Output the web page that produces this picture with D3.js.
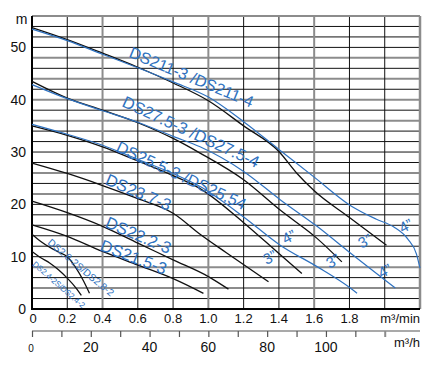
<!DOCTYPE html>
<html><head><meta charset="utf-8">
<script src="https://cdn.jsdelivr.net/npm/d3@7"></script>
<style>
html,body{margin:0;padding:0;background:#fff;}
svg text{font-family:"Liberation Sans",Arial,sans-serif;}
</style></head>
<body><svg id="c" width="437" height="365"></svg>
<script>
// ---- data (flow m³/min, head m) ----
const ds211_3_q = [0,0.2,0.4,0.6,0.8,1.0,1.2,1.4,1.5,1.6,1.8,2.01];
const ds211_3_h = [53.8,51.5,48.9,46.2,43.2,39.8,35.0,30.1,26.0,22.6,17.5,12.2];
const ds211_4_q = [0,0.2,0.4,0.6,0.8,1.0,1.2,1.4,1.6,1.8,1.95,2.05,2.13,2.18,2.2];
const ds211_4_h = [53.5,51.3,48.7,46.1,43.4,40.5,35.8,30.5,25.2,19.9,17.2,15.7,13.4,10.5,7.8];
const ds275_3_q = [0,0.2,0.4,0.6,0.8,0.953,1.2,1.407,1.616,1.757];
const ds275_3_h = [43.5,40.3,38.0,35.6,32.6,29.8,24.7,18.9,13.5,9.0];
const ds275_4_q = [0,0.2,0.4,0.6,0.8,0.953,1.2,1.407,1.616,1.805,2.06];
const ds275_4_h = [42.9,40.2,37.9,35.7,33.0,31.0,26.3,20.9,15.8,10.7,4.0];
const ds255_3_q = [0,0.2,0.4,0.6,0.8,0.953,1.2,1.4,1.53];
const ds255_3_h = [35.0,33.2,31.0,28.3,25.5,23.0,16.5,10.6,6.8];
const ds255_4_q = [0,0.2,0.4,0.6,0.8,0.953,1.2,1.407,1.616,1.805,1.843];
const ds255_4_h = [35.3,33.4,31.3,28.6,25.9,23.4,17.6,12.2,8.1,4.0,3.0];
const ds237_3_q = [0,0.2,0.4,0.6,0.8,0.953,1.1,1.341];
const ds237_3_h = [27.9,25.9,23.6,21.1,18.3,14.3,10.8,5.2];
const ds222_3_q = [0,0.2,0.4,0.6,0.8,1.0,1.114];
const ds222_3_h = [20.6,18.4,15.8,12.6,9.4,6.2,3.8];
const ds215_3_q = [0,0.2,0.4,0.6,0.8,0.972];
const ds215_3_h = [16.1,13.9,11.0,8.4,5.8,3.0];
const ds28_q = [0,0.05,0.1,0.15,0.2,0.25,0.29,0.326];
const ds28_h = [14.3,12.9,11.8,10.9,10.0,7.8,5.5,3.0];
const ds24_q = [0,0.05,0.1,0.15,0.2,0.25,0.28];
const ds24_h = [11.0,9.8,8.8,7.5,5.9,4.0,2.6];

const seriesNames = ["DS211-3","DS211-4","DS27.5-3","DS27.5-4","DS25.5-3","DS25.5-4","DS23.7-3","DS22.2-3","DS21.5-3","DS2.8-2S","DS2.4-2S"];
const seriesQ = [ds211_3_q,ds211_4_q,ds275_3_q,ds275_4_q,ds255_3_q,ds255_4_q,ds237_3_q,ds222_3_q,ds215_3_q,ds28_q,ds24_q];
const seriesH = [ds211_3_h,ds211_4_h,ds275_3_h,ds275_4_h,ds255_3_h,ds255_4_h,ds237_3_h,ds222_3_h,ds215_3_h,ds28_h,ds24_h];
const seriesKind = ["black","blue","black","blue","black","blue","black","black","black","black","black"];

const yTicks = [0,10,20,30,40,50];
const xTicks = [0,0.2,0.4,0.6,0.8,1.0,1.2,1.4,1.6,1.8];
const xTickLabels = ["0","0.2","0.4","0.6","0.8","1.0","1.2","1.4","1.6","1.8"];
const hTicks = [0,10,20,30,40,50,60,70,80,90,100,110,120];
const hLabels = [0,20,40,60,80,100];

// curve labels: text, q, h (data coords of baseline start), angle, size
const curveLabelText = ["DS211-3 /DS211-4","DS27.5-3 /DS27.5-4","DS25.5-3 /DS25.54","DS23.7-3","DS22.2-3","DS21.5-3","DS2.8-2S/DS2.8-2","DS2.4-2S/DS2.4-2"];
const curveLabelQ = [0.544,0.505,0.470,0.409,0.409,0.380,0.085,0.000];
const curveLabelH = [48.2,38.8,30.2,23.9,15.7,11.3,12.5,8.4];
const sizeLabelText = ["4”","3”","4”","3”","4”","3”"];
const sizeLabelQ = [2.12,1.888,2.001,1.706,1.457,1.349];
const sizeLabelH = [15.9,13.0,7.3,9.2,13.8,9.9];

// ---- layout ----
const svg = d3.select("#c");
const x = d3.scaleLinear().domain([0,2.2]).range([32,420]);
const y = d3.scaleLinear().domain([0,56]).range([309,16]);
const xh = d3.scaleLinear().domain([0,132]).range([32,420]);
const BLUE = "#2f72c0";
const GRAY = "#8c8c8c";
const grayH = new Set([4,8,22,26,36,40,44,48]);
const grayV = new Set([0.4,1.0,1.6]);

const g = svg.append("g");
// horizontal grid
d3.range(2,56,2).forEach(v=>{
  const gray = grayH.has(v);
  g.append("line").attr("x1",x(0)).attr("x2",x(2.2)).attr("y1",y(v)).attr("y2",y(v))
   .attr("stroke",gray?GRAY:"#111").attr("stroke-width",gray?2:1);
});
// vertical grid
d3.range(1,11).map(i=>+(i*0.2).toFixed(1)).forEach(v=>{
  const gray = grayV.has(v);
  g.append("line").attr("x1",x(v)).attr("x2",x(v)).attr("y1",y(0)).attr("y2",y(56))
   .attr("stroke",gray?GRAY:"#111").attr("stroke-width",gray?2:1);
});
// borders
g.append("line").attr("x1",x(0)).attr("x2",x(2.2)).attr("y1",y(56)).attr("y2",y(56)).attr("stroke",GRAY).attr("stroke-width",2);
g.append("line").attr("x1",x(2.2)).attr("x2",x(2.2)).attr("y1",y(0)).attr("y2",y(56)).attr("stroke",GRAY).attr("stroke-width",2.5);
g.append("line").attr("x1",x(0)).attr("x2",x(0)).attr("y1",y(0)+1).attr("y2",y(56)).attr("stroke","#000").attr("stroke-width",2);
g.append("line").attr("x1",x(0)).attr("x2",x(2.2)).attr("y1",y(0)).attr("y2",y(0)).attr("stroke","#000").attr("stroke-width",2);

// curves
const line = d3.line().x(d=>x(d[0])).y(d=>y(d[1])).curve(d3.curveMonotoneX);
seriesQ.forEach((qs,i)=>{
  const pts = qs.map((q,j)=>[q,seriesH[i][j]]);
  svg.append("path").attr("d",line(pts)).attr("fill","none")
    .attr("stroke",seriesKind[i]==="blue"?BLUE:"#111")
    .attr("stroke-width",seriesKind[i]==="blue"?1.2:1.3);
});

// curve labels
const labelAngle = [22.5,24.7,24.8,23,23,21,40,41];
const labelSize = [16,16.5,16.3,16.5,16.5,16.5,10,8];
curveLabelText.forEach((t,i)=>{
  const px = x(curveLabelQ[i]), py = y(curveLabelH[i]);
  svg.append("text").attr("transform",`translate(${px},${py}) rotate(${labelAngle[i]})`)
    .attr("fill",BLUE).attr("font-size",labelSize[i]).text(t);
});
sizeLabelText.forEach((t,i)=>{
  const px = x(sizeLabelQ[i]), py = y(sizeLabelH[i]);
  svg.append("text").attr("transform",`translate(${px},${py}) rotate(-28)`)
    .attr("fill",BLUE).attr("font-size",15).attr("text-anchor","middle").attr("dy","0.35em").text(t);
});

// y axis labels
yTicks.forEach(v=>{
  svg.append("text").attr("x",26).attr("y",y(v)).attr("dy","0.36em").attr("text-anchor","end")
   .attr("font-size",14).attr("fill","#111").text(v);
});
svg.append("text").attr("x",21.5).attr("y",24).attr("text-anchor","middle").attr("font-size",14).attr("fill","#111").text("m");

// x top labels
xTicks.forEach((v,i)=>{
  svg.append("text").attr("x",x(v)+(i===0?1:0)).attr("y",323).attr("text-anchor","middle")
   .attr("font-size",13).attr("fill","#111").text(xTickLabels[i]);
});
svg.append("text").attr("x",420).attr("y",323).attr("text-anchor","end").attr("font-size",13).attr("fill","#111").text("m³/min");

// second axis (m³/h)
const axG = svg.append("g").attr("transform","translate(0,331)");
const axis = d3.axisBottom(xh).tickValues(hTicks).tickSize(6).tickFormat("");
axG.call(axis);
axG.select(".domain").attr("d",`M${xh(0)},0H420`).attr("stroke","#555").attr("stroke-width",1.2);
axG.selectAll(".tick line").attr("stroke",(d)=>d===120?GRAY:"#555").attr("stroke-width",d=>d===120?2:1.2);
hLabels.forEach(v=>{
  svg.append("text").attr("x",xh(v)+(v===0?-1:0)).attr("y",351.5).attr("text-anchor","middle")
   .attr("font-size",v===0?10:14).attr("fill","#111").text(v);
});
svg.append("text").attr("x",420).attr("y",347).attr("text-anchor","end").attr("font-size",13).attr("fill","#111").text("m³/h");
</script></body></html>
